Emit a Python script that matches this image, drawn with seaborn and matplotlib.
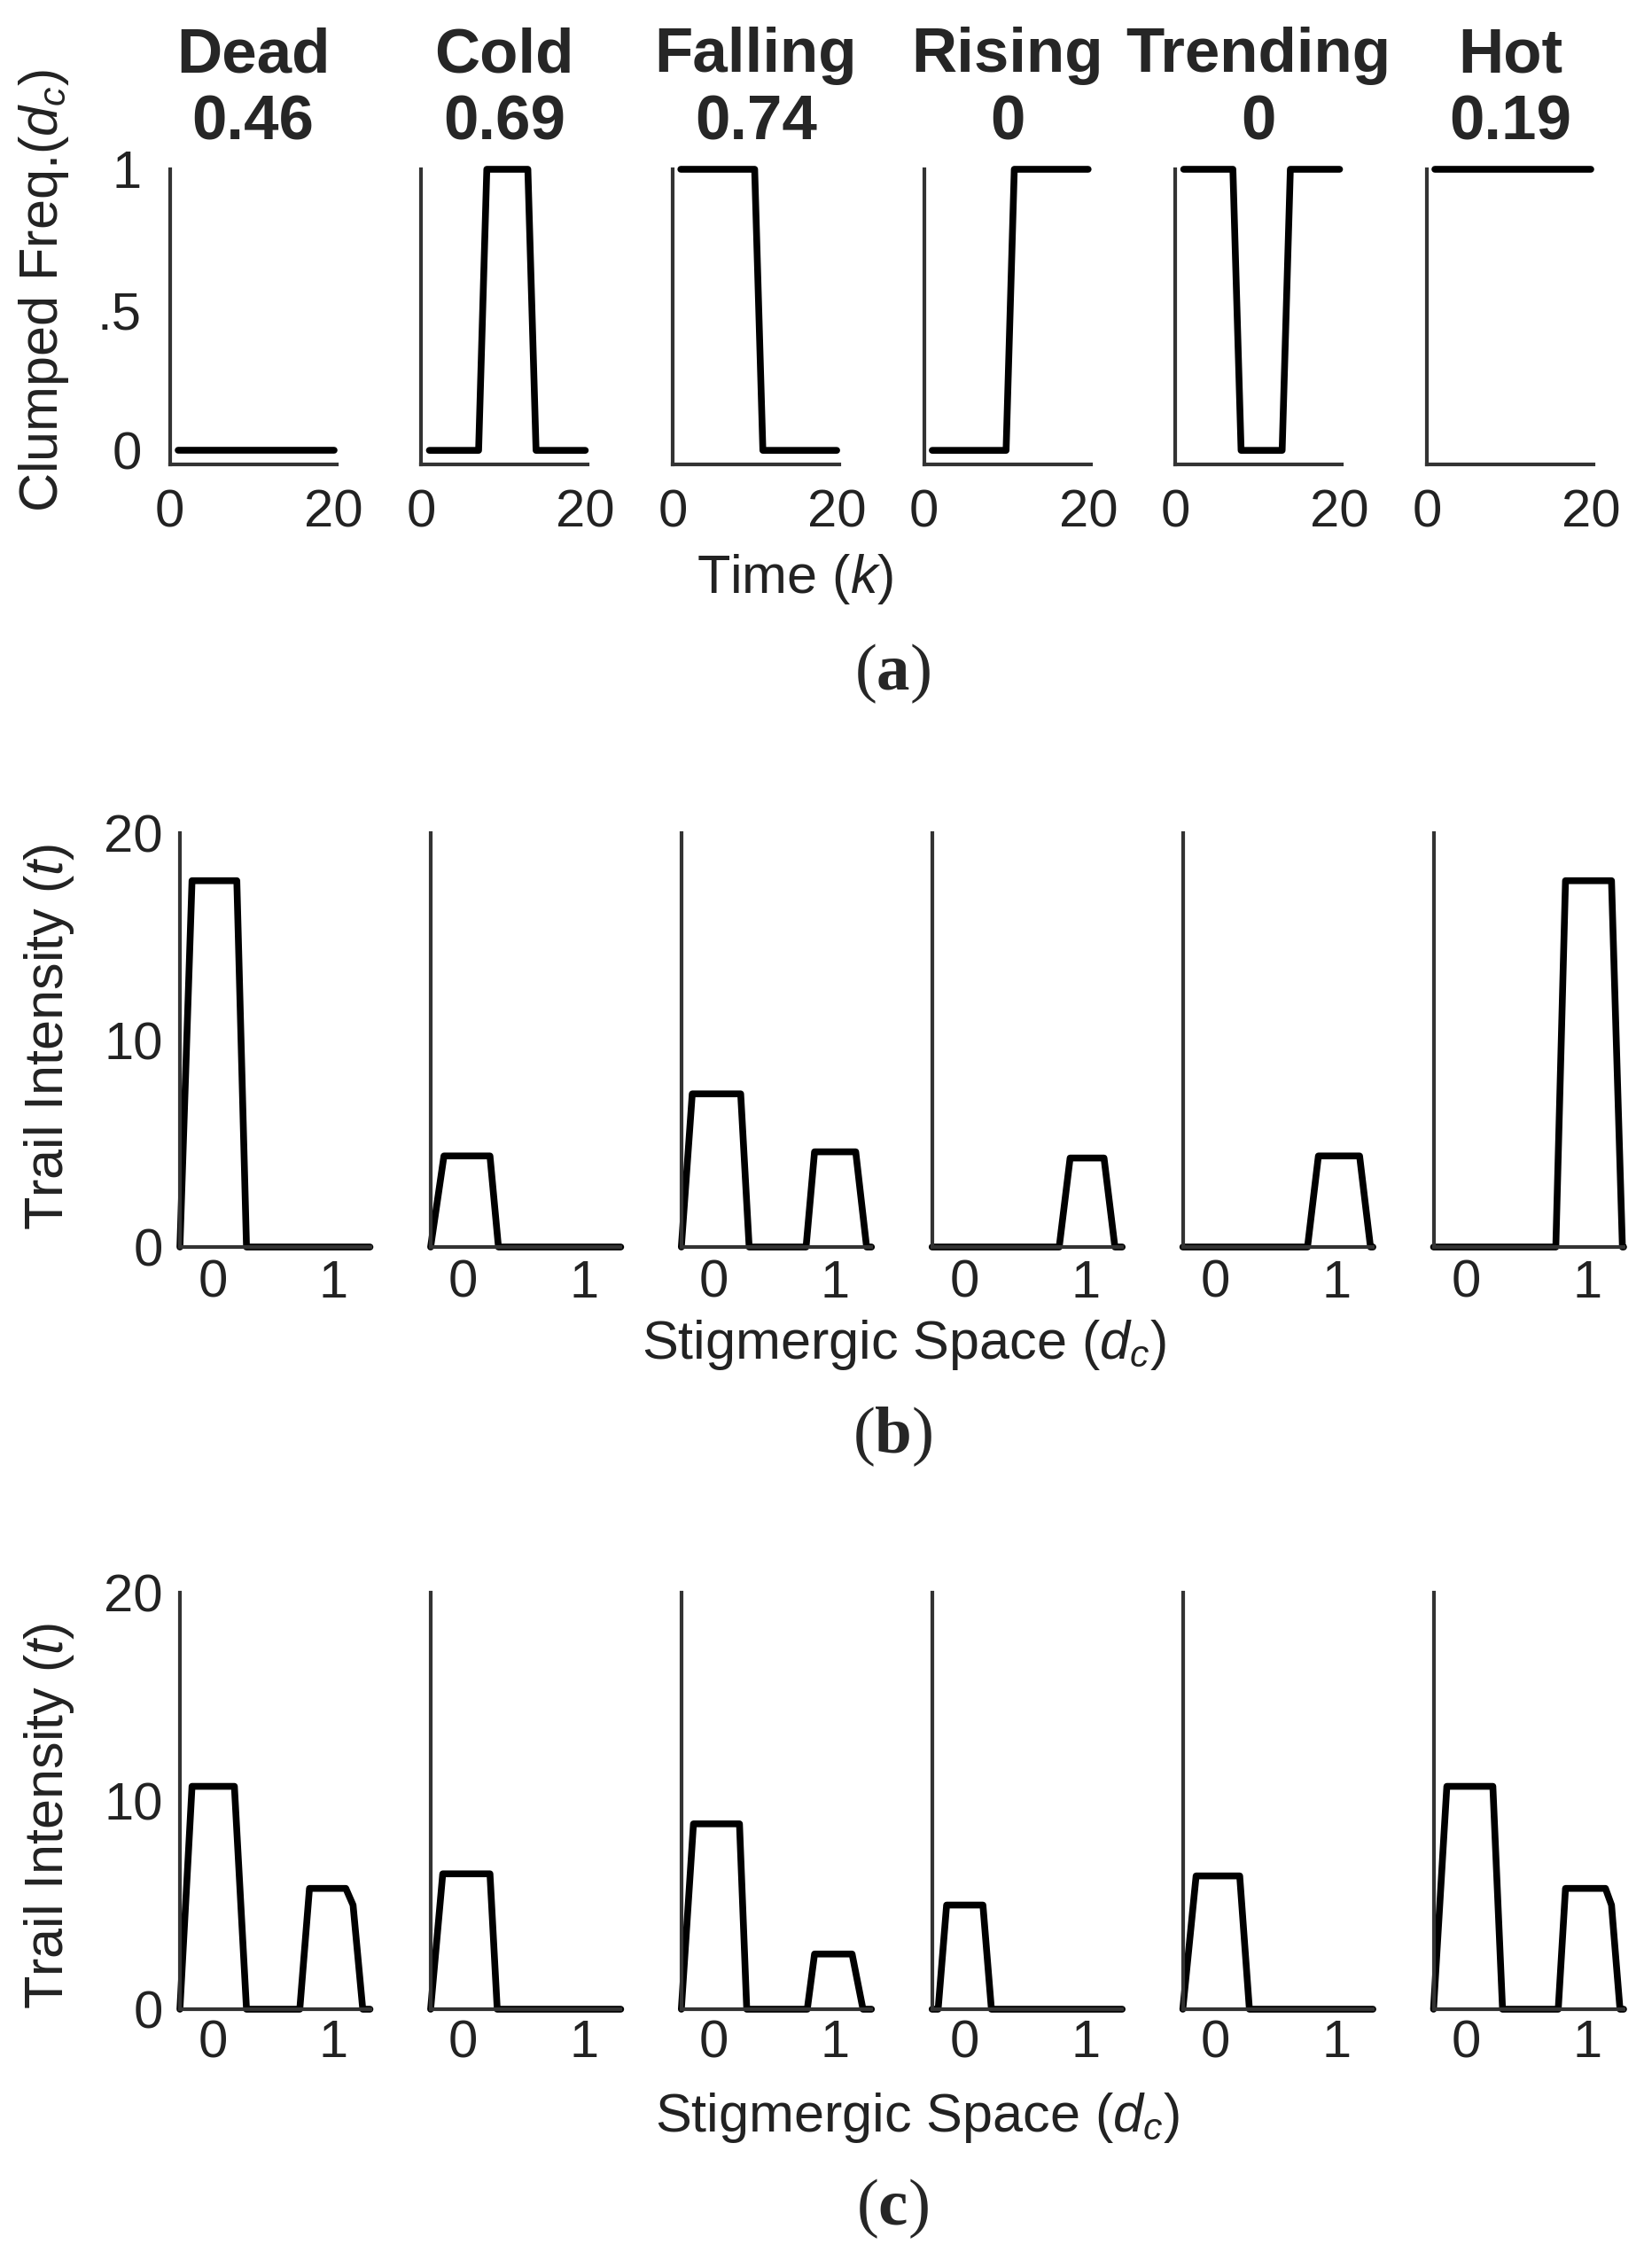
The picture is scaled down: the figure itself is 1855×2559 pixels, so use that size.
import matplotlib
matplotlib.use("Agg")
import matplotlib.pyplot as plt
import seaborn as sns
import pandas as pd

states = ["Dead", "Cold", "Falling", "Rising", "Trending", "Hot"]
scores = ["0.46", "0.69", "0.74", "0", "0", "0.19"]

# (a) clumped frequency vs time (breakpoints of each profile)
time_x = [[1, 20], [1, 7, 8, 13, 14, 20], [1, 10, 11, 20],
          [1, 10, 11, 20], [1, 7, 8, 13, 14, 20], [1, 20]]
freq_y = [[0, 0], [0, 0, 1, 1, 0, 0], [1, 1, 0, 0],
          [0, 0, 1, 1], [1, 1, 0, 0, 1, 1], [1, 1]]

# (b) trail intensity vs stigmergic space
space_b = [[-0.27, -0.17, 0.2, 0.28, 1.3],
           [-0.27, -0.16, 0.22, 0.29, 1.3],
           [-0.27, -0.18, 0.22, 0.29, 0.76, 0.83, 1.17, 1.26, 1.3],
           [-0.27, 0.78, 0.87, 1.15, 1.24, 1.3],
           [-0.27, 0.76, 0.85, 1.19, 1.28, 1.3],
           [-0.27, 0.74, 0.82, 1.2, 1.29, 1.3]]
trail_b = [[0, 17.7, 17.7, 0, 0],
           [0, 4.4, 4.4, 0, 0],
           [0, 7.4, 7.4, 0, 0, 4.6, 4.6, 0, 0],
           [0, 0, 4.3, 4.3, 0, 0],
           [0, 0, 4.4, 4.4, 0, 0],
           [0, 0, 17.7, 17.7, 0, 0]]

# (c) trail intensity vs stigmergic space
space_c = [[-0.27, -0.17, 0.18, 0.28, 0.72, 0.8, 1.1, 1.16, 1.24, 1.3],
           [-0.27, -0.17, 0.22, 0.28, 1.3],
           [-0.27, -0.17, 0.21, 0.27, 0.77, 0.83, 1.14, 1.23, 1.3],
           [-0.27, -0.22, -0.15, 0.15, 0.22, 1.3],
           [-0.27, -0.16, 0.2, 0.28, 1.3],
           [-0.27, -0.16, 0.22, 0.3, 0.76, 0.82, 1.15, 1.2, 1.27, 1.3]]
trail_c = [[0, 10.7, 10.7, 0, 0, 5.8, 5.8, 5.0, 0, 0],
           [0, 6.5, 6.5, 0, 0],
           [0, 8.9, 8.9, 0, 0, 2.65, 2.65, 0, 0],
           [0, 0, 5.0, 5.0, 0, 0],
           [0, 6.4, 6.4, 0, 0],
           [0, 10.7, 10.7, 0, 0, 5.8, 5.8, 5.0, 0, 0]]


def to_frame(xs, ys):
    rows = []
    for name, xx, yy in zip(states, xs, ys):
        for x, y in zip(xx, yy):
            rows.append((name, x, y))
    return pd.DataFrame(rows, columns=["state", "x", "y"])


sns.set_style("white")
plt.rcParams['font.family'] = ['Liberation Sans', 'DejaVu Sans']
plt.rcParams['mathtext.fontset'] = 'custom'
plt.rcParams['mathtext.rm'] = 'Liberation Sans'
plt.rcParams['mathtext.it'] = 'Liberation Sans:italic'
plt.rcParams['mathtext.bf'] = 'Liberation Serif:bold'

W, H = 1855, 2559
fig = plt.figure(figsize=(W / 100, H / 100), dpi=100)
spine_c = '#333333'
tick_fs = 43
lab_fs = 44


def add_ax(left, top, width, bottom):
    return fig.add_axes([left / W, 1 - bottom / H, width / W, (bottom - top) / H])


def style_ax(ax, first):
    for s in ['top', 'right']:
        ax.spines[s].set_visible(False)
    for s in ['left', 'bottom']:
        ax.spines[s].set_color(spine_c)
        ax.spines[s].set_linewidth(3)
    ax.set_xlabel('')
    ax.set_ylabel('')
    if not first:
        ax.set_yticklabels([])


def draw(ax, df, name):
    sub = df[df.state == name]
    sns.lineplot(data=sub, x='x', y='y', sort=False, estimator=None,
                 color='black', lw=5.5, ax=ax, legend=False, clip_on=False)


# panel (a)
df_a = to_frame(time_x, freq_y)
for i, name in enumerate(states):
    ax = add_ax(191.5 + i * 283.7, 191, 188, 524)
    draw(ax, df_a, name)
    ax.set_xlim(0, 20.3)
    ax.set_ylim(-0.05, 1)
    ax.set_xticks([0, 20])
    ax.set_xticklabels(['0', '20'])
    ax.set_yticks([0, 0.5, 1])
    ax.set_yticklabels(['0', '.5', '1'])
    ax.tick_params(axis='both', length=0, labelsize=tick_fs, colors='#222222')
    ax.tick_params(axis='y', pad=23)
    ax.tick_params(axis='x', pad=20)
    ax.set_title(f"{name}\n{scores[i]}", fontsize=51, fontweight='bold',
                 pad=24, linespacing=1.2)
    style_ax(ax, i == 0)

# panels (b) and (c)
for df, top, bottom, xpad in [(to_frame(space_b, trail_b), 940, 1407, 10),
                              (to_frame(space_c, trail_c), 1797, 2267, 8)]:
    for i, name in enumerate(states):
        ax = add_ax(203 + i * 282.9, top, 214.5, bottom)
        draw(ax, df, name)
        ax.set_xlim(-0.27, 1.3)
        ax.set_ylim(0, 20)
        ax.set_xticks([0, 1])
        ax.set_yticks([0, 10, 20])
        ax.tick_params(axis='x', direction='in', length=6, width=2,
                       color='#999999', pad=xpad)
        ax.tick_params(axis='y', length=0, pad=14)
        ax.tick_params(axis='both', labelsize=tick_fs, labelcolor='#222222')
        style_ax(ax, i == 0)

# axis labels
fig.text(50 / W, 1 - 328 / H, r'Clumped Freq.($d_c$)', rotation=90,
         ha='center', va='center', fontsize=lab_fs, color='#222222')
fig.text(897 / W, 1 - 653 / H, r'Time ($k$)', ha='center', va='center',
         fontsize=lab_fs, color='#222222')
fig.text(56 / W, 1 - 1170 / H, r'Trail Intensity ($t$)', rotation=90,
         ha='center', va='center', fontsize=lab_fs, color='#222222')
fig.text(1020 / W, 1 - 1518 / H, r'Stigmergic Space ($d_c$)', ha='center',
         va='center', fontsize=lab_fs, color='#222222')
fig.text(56 / W, 1 - 2049 / H, r'Trail Intensity ($t$)', rotation=90,
         ha='center', va='center', fontsize=lab_fs, color='#222222')
fig.text(1035 / W, 1 - 2389 / H, r'Stigmergic Space ($d_c$)', ha='center',
         va='center', fontsize=lab_fs, color='#222222')

# panel letters
for letter, yc in [('a', 760), ('b', 1621), ('c', 2492)]:
    fig.text(1007 / W, 1 - yc / H, r'($\mathbf{%s}$)' % letter, ha='center',
             va='center', fontsize=54, family=['Liberation Serif', 'DejaVu Serif'])

fig.savefig('out.png', dpi=100, facecolor='white')
